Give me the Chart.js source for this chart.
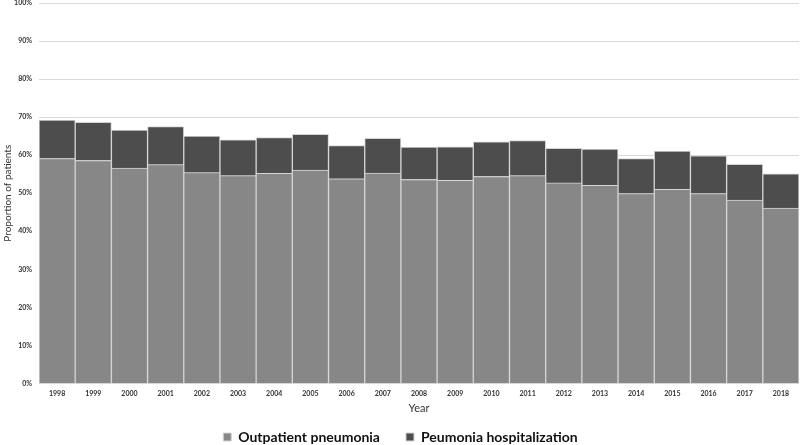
<!DOCTYPE html>
<html>
<head>
<meta charset="utf-8">
<script src="https://cdn.jsdelivr.net/npm/chart.js@4/dist/chart.umd.min.js"></script>
<style>
  body { margin: 0; background: #fff; }
  #wrap { width: 800px; height: 445px; }
</style>
</head>
<body>
<div id="wrap"><canvas id="myChart"></canvas></div>
<script>
// years on the x axis
var years = ["1998","1999","2000","2001","2002","2003","2004","2005","2006","2007","2008",
             "2009","2010","2011","2012","2013","2014","2015","2016","2017","2018"];
// outpatient share (%)
var outpatient = [59.1,58.6,56.6,57.5,55.4,54.6,55.2,56.1,53.8,55.3,53.6,
                  53.4,54.4,54.6,52.7,52.1,49.9,51.0,49.9,48.2,46.1];
// hospitalization share stacked on top (%)
var hospital = [10.1,10.0,10.0,10.0,9.6,9.4,9.4,9.4,8.7,9.1,8.5,
                8.8,9.1,9.2,9.1,9.5,9.2,10.1,9.9,9.4,9.0];
var yTicks = [0,10,20,30,40,50,60,70,80,90,100];

Chart.defaults.font.family = "Lato, 'Open Sans', sans-serif";
Chart.defaults.color = "#333";

new Chart("myChart", {
  type: "bar",
  data: {
    labels: years,
    datasets: [{
      label: "Outpatient pneumonia",
      data: outpatient,
      backgroundColor: "#878787",
      borderColor: "#d4d4d4",
      borderWidth: 1
    }, {
      label: "Peumonia hospitalization",
      data: hospital,
      backgroundColor: "#4d4d4d",
      borderColor: "#d4d4d4",
      borderWidth: 1
    }]
  },
  options: {
    responsive: true,
    maintainAspectRatio: false,
    animation: false,
    layout: { padding: { top: 3, right: 1, left: 2, bottom: -9 } },
    datasets: { bar: { barPercentage: 1, categoryPercentage: 1 } },
    scales: {
      x: {
        stacked: true,
        grid: { display: false, drawTicks: false },
        border: { display: false },
        ticks: { font: { size: 7, weight: "bold" }, padding: 6, maxRotation: 0 },
        title: { display: true, text: "Year", font: { size: 11 }, padding: { top: -2, bottom: -11 } }
      },
      y: {
        stacked: true,
        min: 0,
        max: 100,
        afterBuildTicks: function(scale) {
          scale.ticks = yTicks.map(function(v) { return { value: v }; });
        },
        afterFit: function(scale) {
          scale.width = 37;
          scale.paddingTop = 0;
        },
        grid: { color: "#d9d9d9", drawTicks: false },
        border: { display: false },
        ticks: {
          font: { size: 7, weight: "bold" },
          padding: 7,
          callback: function(v) { return v + "%"; }
        },
        title: { display: true, text: "Proportion of patients", font: { size: 10 }, padding: 0 }
      }
    },
    plugins: {
      legend: {
        position: "bottom",
        labels: {
          boxWidth: 8,
          boxHeight: 8,
          padding: 26,
          color: "#111",
          font: { size: 14, weight: "bold" }
        }
      },
      tooltip: { enabled: false }
    }
  }
});
</script>
</body>
</html>
